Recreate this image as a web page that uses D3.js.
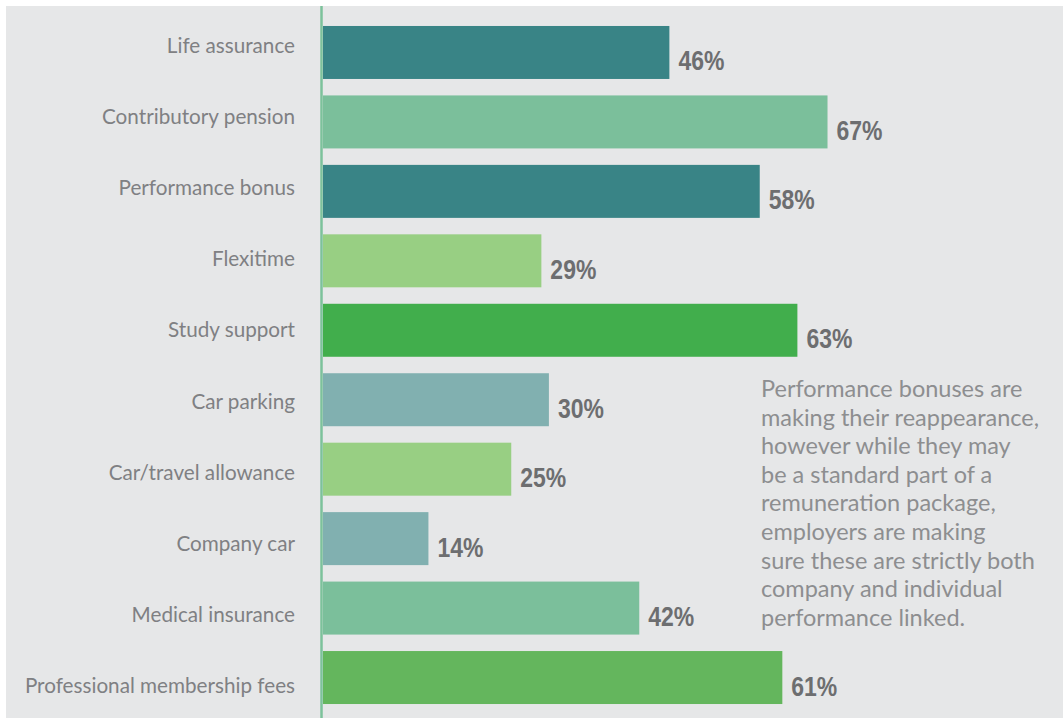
<!DOCTYPE html>
<html>
<head>
<meta charset="utf-8">
<script src="https://cdn.jsdelivr.net/npm/d3@7"></script>
<style>
  html, body { margin: 0; padding: 0; background: #ffffff; }
  svg { display: block; }
</style>
</head>
<body>
<svg id="chart" width="1063" height="718"></svg>
<script>
// Benefits offered, share of respondents (%)
const categories = [
  "Life assurance",
  "Contributory pension",
  "Performance bonus",
  "Flexitime",
  "Study support",
  "Car parking",
  "Car/travel allowance",
  "Company car",
  "Medical insurance",
  "Professional membership fees"
];
const values = [46, 67, 58, 29, 63, 30, 25, 14, 42, 61];
const barColors = [
  "#398486", "#7bbf9b", "#398486", "#98cf83", "#41ae4c",
  "#81b0b0", "#98cf83", "#81b0b0", "#7bbf9b", "#64b65d"
];
const noteLines = [
  "Performance bonuses are",
  "making their reappearance,",
  "however while they may",
  "be a standard part of a",
  "remuneration package,",
  "employers are making",
  "sure these are strictly both",
  "company and individual",
  "performance linked."
];

const W = 1063, H = 718;
const svg = d3.select("#chart");

// panel background
svg.append("rect")
  .attr("x", 6).attr("y", 6)
  .attr("width", W - 6).attr("height", H - 6)
  .attr("fill", "#e6e7e8");

const x0 = 323;
const x = d3.scaleLinear().domain([0, 100]).range([0, 753]);
const y = d3.scaleBand()
  .domain(categories)
  .range([17.75, 712.25])
  .paddingInner(0.237)
  .paddingOuter(0.1185);
// category labels sit on a slightly wider spacing than the bars
const labelY = d3.scalePoint().domain(categories).range([46, 686]);

const data = categories.map((c, i) => ({ cat: c, val: values[i], color: barColors[i] }));

// bars
svg.append("g").selectAll("rect")
  .data(data)
  .join("rect")
  .attr("x", x0)
  .attr("y", d => y(d.cat))
  .attr("width", d => x(d.val))
  .attr("height", y.bandwidth())
  .attr("fill", d => d.color);

// vertical baseline
svg.append("line")
  .attr("x1", 321.5).attr("x2", 321.5)
  .attr("y1", 6).attr("y2", H)
  .attr("stroke", "#7cc29b")
  .attr("stroke-width", 2.5);

// category labels
svg.append("g").selectAll("text")
  .data(data)
  .join("text")
  .attr("transform", d => `translate(295,${labelY(d.cat) + 7}) scale(0.94,1)`)
  .attr("text-anchor", "end")
  .attr("font-family", "Lato, sans-serif")
  .attr("font-size", 22)
  .attr("fill", "#7f8083")
  .text(d => d.cat);

// value labels
svg.append("g").selectAll("text")
  .data(data)
  .join("text")
  .attr("transform", d => `translate(${x0 + x(d.val) + 9},${y(d.cat) + y.bandwidth() / 2 + 18}) scale(0.82,1)`)
  .attr("font-family", "'Liberation Sans', Arial, sans-serif")
  .attr("font-weight", "bold")
  .attr("font-size", 28)
  .attr("fill", "#6d6e70")
  .text(d => d.val + "%");

// annotation
const note = svg.append("text")
  .attr("transform", "translate(761,397)")
  .attr("font-family", "Lato, sans-serif")
  .attr("font-size", 23.5)
  .attr("fill", "#8d8e90");
note.selectAll("tspan")
  .data(noteLines)
  .join("tspan")
  .attr("x", 0)
  .attr("dy", (d, i) => i === 0 ? 0 : 28.6)
  .text(d => d);
</script>
</body>
</html>
